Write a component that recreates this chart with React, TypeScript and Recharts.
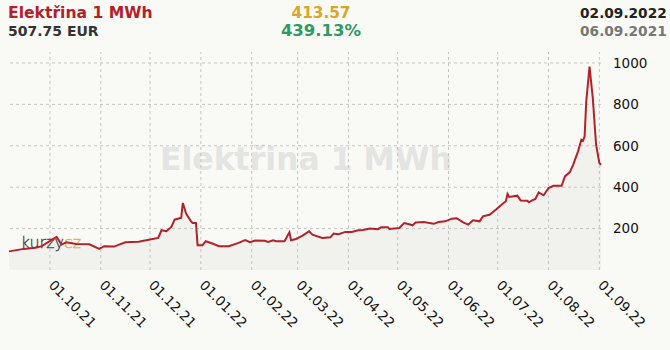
import React from 'react';
import { AreaChart, Area, XAxis, YAxis, ReferenceLine } from 'recharts';

const dates = [
  '2021-09-06', '2021-09-15', '2021-09-22', '2021-09-26', '2021-10-05', '2021-10-08', '2021-10-11',
  '2021-10-17', '2021-10-25', '2021-10-31', '2021-11-03', '2021-11-09', '2021-11-16', '2021-11-24',
  '2021-12-01', '2021-12-06', '2021-12-08', '2021-12-11', '2021-12-14', '2021-12-16', '2021-12-20',
  '2021-12-21', '2021-12-23', '2021-12-26', '2021-12-27', '2021-12-29', '2021-12-30', '2022-01-02',
  '2022-01-04', '2022-01-08', '2022-01-12', '2022-01-18', '2022-01-24', '2022-01-28', '2022-01-31',
  '2022-02-03', '2022-02-09', '2022-02-11', '2022-02-14', '2022-02-16', '2022-02-21', '2022-02-24',
  '2022-02-25', '2022-02-28', '2022-03-04', '2022-03-08', '2022-03-10', '2022-03-16', '2022-03-21',
  '2022-03-23', '2022-03-26', '2022-03-30', '2022-04-03', '2022-04-07', '2022-04-10', '2022-04-14',
  '2022-04-19', '2022-04-21', '2022-04-25', '2022-04-26', '2022-05-02', '2022-05-05', '2022-05-08',
  '2022-05-10', '2022-05-12', '2022-05-17', '2022-05-23', '2022-05-26', '2022-05-30', '2022-06-03',
  '2022-06-06', '2022-06-10', '2022-06-13', '2022-06-16', '2022-06-20', '2022-06-22', '2022-06-26',
  '2022-06-30', '2022-07-04', '2022-07-06', '2022-07-07', '2022-07-08', '2022-07-13', '2022-07-15',
  '2022-07-19', '2022-07-20', '2022-07-22', '2022-07-24', '2022-07-26', '2022-07-29', '2022-08-01',
  '2022-08-04', '2022-08-09', '2022-08-11', '2022-08-14', '2022-08-16', '2022-08-19', '2022-08-21',
  '2022-08-22', '2022-08-23', '2022-08-24', '2022-08-26', '2022-08-28', '2022-08-30', '2022-09-01',
  '2022-09-02',
];

const prices = [
  90, 102, 107, 115, 160, 123, 134,
  126, 124, 102, 115, 113, 134, 137,
  147, 155, 192, 187, 208, 243, 252,
  324, 272, 235, 227, 227, 120, 120,
  139, 128, 115, 115, 131, 144, 134,
  142, 141, 136, 144, 139, 139, 182,
  144, 150, 166, 187, 171, 155, 158,
  176, 173, 184, 184, 192, 193, 200,
  197, 206, 206, 198, 203, 227, 221,
  216, 230, 232, 223, 232, 235, 248,
  250, 230, 219, 240, 235, 259, 267,
  292, 320, 332, 367, 353, 359, 336,
  335, 327, 336, 343, 375, 361, 396,
  407, 407, 452, 473, 508, 573, 629,
  624, 645, 814, 982, 830, 605, 517,
  507.75,
];

const yTicks = [200, 400, 600, 800, 1000];
const xTickDates = [
  '2021-10-01', '2021-11-01', '2021-12-01', '2022-01-01', '2022-02-01', '2022-03-01',
  '2022-04-01', '2022-05-01', '2022-06-01', '2022-07-01', '2022-08-01', '2022-09-01',
];
const xTickLabels = [
  '01.10.21', '01.11.21', '01.12.21', '01.01.22', '01.02.22', '01.03.22',
  '01.04.22', '01.05.22', '01.06.22', '01.07.22', '01.08.22', '01.09.22',
];

const titleText = 'Elektřina 1 MWh';
const lastValueText = '507.75 EUR';
const changeText = '413.57';
const changePctText = '439.13%';
const endDateText = '02.09.2022';
const startDateText = '06.09.2021';

const START = Date.UTC(2021, 8, 6);
const END_DAY = 361;
const Y_MAX = 1053;
const dayIndex = (s: string) => {
  const [y, m, d] = s.split('-').map(Number);
  return Math.round((Date.UTC(y, m - 1, d) - START) / 86400000);
};

const data = dates.map((d, i) => ({ t: dayIndex(d), v: prices[i] }));
const xTicks = xTickDates.map(dayIndex);

const FONT = '"DejaVu Sans", Verdana, sans-serif';
const GRID = '#c4c4c4';
const MARGIN = { top: 52, right: 9, bottom: 0, left: 9 };

const XTick = (props: any) => {
  const { x, y, payload } = props;
  const idx = xTicks.indexOf(payload.value);
  const tx = x - 2;
  const ty = y + 8;
  return (
    <text x={tx} y={ty} transform={`rotate(45, ${tx}, ${ty})`} fontSize={13.5} fill="#111" fontFamily={FONT} textAnchor="start">
      {xTickLabels[idx]}
    </text>
  );
};

const YTick = (props: any) => {
  const { x, y, payload } = props;
  return (
    <text x={x + 4} y={y} dy="0.355em" fontSize={13.5} fill="#111" fontFamily={FONT} textAnchor="start">
      {payload.value}
    </text>
  );
};

const layer: React.CSSProperties = { position: 'absolute', left: 0, top: 0 };

export default function App() {
  return (
    <div style={{ position: 'absolute', left: 0, top: 0, width: 670, height: 350, background: '#f9f9f5', overflow: 'hidden' }}>
      <svg width={670} height={350} style={layer}>
        <text x={8} y={18.3} fontFamily={FONT} fontWeight="bold" fontSize={15.6} fill="#b3202a">{titleText}</text>
        <text x={8} y={36} fontFamily={FONT} fontWeight="bold" fontSize={14} fill="#333">{lastValueText}</text>
        <text x={321} y={17.5} fontFamily={FONT} fontWeight="bold" fontSize={15.3} fill="#d9a62a" textAnchor="middle">{changeText}</text>
        <text x={321} y={36.3} fontFamily={FONT} fontWeight="bold" fontSize={16.5} fill="#2e9a66" textAnchor="middle">{changePctText}</text>
        <text x={666.7} y={18.3} fontFamily={FONT} fontWeight="bold" fontSize={13.7} fill="#222" textAnchor="end">{endDateText}</text>
        <text x={666.7} y={36} fontFamily={FONT} fontWeight="bold" fontSize={13.7} fill="#777" textAnchor="end">{startDateText}</text>
        <text x={306} y={170} fontFamily={FONT} fontWeight="bold" fontSize={31.5} fill="#e4e4e2" textAnchor="middle">{titleText}</text>
      </svg>
      <div style={layer}>
        <AreaChart width={670} height={350} data={data} margin={MARGIN}>
          <XAxis dataKey="t" type="number" domain={[0, END_DAY]} ticks={xTicks} height={80}
            axisLine={false} tickLine={false} tick={<XTick />} interval={0} />
          <YAxis orientation="right" type="number" domain={[0, Y_MAX]} ticks={yTicks} width={60}
            axisLine={false} tickLine={false} tick={<YTick />} interval={0} />
          <Area type="linear" dataKey="v" stroke="none" fill="#e6e6e4" fillOpacity={0.45}
            isAnimationActive={false} dot={false} activeDot={false} />
          {yTicks.map((v) => (
            <ReferenceLine key={'y' + v} y={v} stroke={GRID} strokeDasharray="3 3" />
          ))}
          {xTicks.map((t) => (
            <ReferenceLine key={'x' + t} x={t} stroke={GRID} strokeDasharray="3 3" />
          ))}
        </AreaChart>
      </div>
      <svg width={670} height={350} style={layer}>
        <text x={20.7} y={248} fontFamily={FONT} fontWeight={200} fontSize={16} fill="#444" stroke="#444" strokeWidth={0.35}>
          kurzy<tspan fill="#e2b040" stroke="#e2b040">cz</tspan>
        </text>
      </svg>
      <div style={layer}>
        <AreaChart width={670} height={350} data={data} margin={MARGIN}>
          <XAxis dataKey="t" type="number" domain={[0, END_DAY]} ticks={xTicks} height={80}
            axisLine={false} tickLine={false} tick={false} />
          <YAxis orientation="right" type="number" domain={[0, Y_MAX]} ticks={yTicks} width={60}
            axisLine={false} tickLine={false} tick={false} />
          <Area type="linear" dataKey="v" stroke="#b3222a" strokeWidth={2} fill="none"
            isAnimationActive={false} dot={false} activeDot={false} />
        </AreaChart>
      </div>
    </div>
  );
}
